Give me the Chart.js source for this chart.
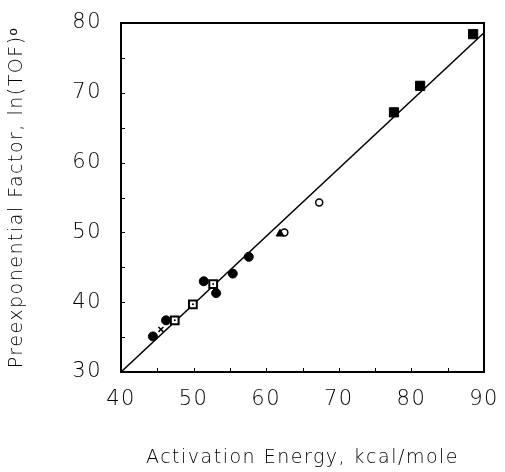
<!DOCTYPE html>
<html>
<head>
<meta charset="utf-8">
<script src="https://cdn.jsdelivr.net/npm/chart.js@4.4.1/dist/chart.umd.min.js"></script>
<style>
    html, body { margin: 0; padding: 0; background: #fff; }
    #wrap { width: 505px; height: 472px; }
</style>
</head>
<body>
<div id="wrap"><canvas id="chart"></canvas></div>
<script>
// Data
const filledCircleX = [44.4, 46.2, 51.4, 53.1, 55.4, 57.6];
const filledCircleY = [35.1, 37.4, 43.0, 41.3, 44.1, 46.5];
const openSquareX = [47.4, 49.9, 52.7];
const openSquareY = [37.4, 39.7, 42.6];
const crossX = [45.5];
const crossY = [36.1];
const triangleX = [61.9];
const triangleY = [49.8];
const openCircleX = [62.5, 67.3];
const openCircleY = [50.0, 54.3];
const filledSquareX = [77.6, 81.2, 88.5];
const filledSquareY = [67.2, 71.0, 78.4];
const fitX = [40, 90];
const fitY = [30, 78.6];

const xTitle = 'Activation Energy, kcal/mole';
const yTitle = 'Preexponential Factor, ln(TOF)\u1D52';

const FONT = "'DejaVu Sans', sans-serif";
const SPACING = '1.5px';

function pts(xs, ys) {
    return xs.map((x, i) => ({ x: x, y: ys[i] }));
}

// slightly spaced lettering like the original labels
const spacingPlugin = {
    id: 'spacing',
    beforeInit(chart) { chart.ctx.letterSpacing = SPACING; },
    beforeUpdate(chart) { chart.ctx.letterSpacing = SPACING; },
    beforeDraw(chart) { chart.ctx.letterSpacing = SPACING; }
};

// frame around the plot and small inward ticks every 5 units
const framePlugin = {
    id: 'frame',
    afterDatasetsDraw(chart) {
        const { ctx, chartArea: a, scales } = chart;
        ctx.save();
        ctx.strokeStyle = '#000';
        ctx.lineWidth = 1;
        scales.x.ticks.forEach((t) => {
            const px = Math.round(scales.x.getPixelForValue(t.value)) + 0.5;
            ctx.beginPath();
            ctx.moveTo(px, a.bottom);
            ctx.lineTo(px, a.bottom - 4);
            ctx.stroke();
        });
        scales.y.ticks.forEach((t) => {
            const py = Math.round(scales.y.getPixelForValue(t.value)) + 0.5;
            ctx.beginPath();
            ctx.moveTo(a.left, py);
            ctx.lineTo(a.left + 4, py);
            ctx.stroke();
        });
        ctx.lineWidth = 2;
        ctx.strokeRect(a.left, a.top, a.right - a.left, a.bottom - a.top);
        ctx.restore();
    }
};

new Chart(document.getElementById('chart'), {
    type: 'scatter',
    data: {
        datasets: [
            {
                data: pts(filledCircleX, filledCircleY),
                pointStyle: 'circle',
                pointRadius: 4.5,
                backgroundColor: '#000',
                borderColor: '#000',
                borderWidth: 1,
                order: 1
            },
            {
                data: pts(openSquareX, openSquareY),
                pointStyle: 'rect',
                pointRadius: 5.5,
                backgroundColor: '#fff',
                borderColor: '#000',
                borderWidth: 2,
                order: 1
            },
            {
                // dot inside the open squares
                data: pts(openSquareX, openSquareY),
                pointStyle: 'circle',
                pointRadius: 1,
                backgroundColor: '#000',
                borderColor: '#000',
                borderWidth: 0,
                order: 0
            },
            {
                data: pts(crossX, crossY),
                pointStyle: 'crossRot',
                pointRadius: 3.5,
                borderColor: '#000',
                borderWidth: 1.5,
                order: 1
            },
            {
                data: pts(triangleX, triangleY),
                pointStyle: 'triangle',
                pointRadius: 4.5,
                backgroundColor: '#000',
                borderColor: '#000',
                borderWidth: 1,
                order: 1
            },
            {
                data: pts(openCircleX, openCircleY),
                pointStyle: 'circle',
                pointRadius: 3.5,
                backgroundColor: '#fff',
                borderColor: '#000',
                borderWidth: 1.5,
                order: 1
            },
            {
                data: pts(filledSquareX, filledSquareY),
                pointStyle: 'rect',
                pointRadius: 6.5,
                backgroundColor: '#000',
                borderColor: '#000',
                borderWidth: 1,
                order: 1
            },
            {
                type: 'line',
                data: pts(fitX, fitY),
                borderColor: '#000',
                borderWidth: 1.5,
                pointRadius: 0,
                fill: false,
                order: 5
            }
        ]
    },
    options: {
        responsive: true,
        maintainAspectRatio: false,
        animation: false,
        layout: {
            padding: { top: 23, right: 21, bottom: 0, left: 0 }
        },
        plugins: {
            legend: { display: false },
            tooltip: { enabled: false }
        },
        scales: {
            x: {
                type: 'linear',
                min: 40,
                max: 90,
                grid: { display: false, drawTicks: false },
                border: { display: false },
                ticks: {
                    stepSize: 5,
                    autoSkip: false,
                    maxRotation: 0,
                    padding: 15,
                    color: '#000',
                    font: { family: FONT, size: 21, weight: 200 },
                    callback: (v) => (v % 10 === 0 ? v : '')
                },
                title: {
                    display: true,
                    text: xTitle,
                    color: '#000',
                    font: { family: FONT, size: 19, weight: 200 },
                    padding: { top: 0, bottom: 3 }
                },
                afterFit: (scale) => {
                    scale.height = 100;
                    scale.paddingLeft = 0;
                    scale.paddingRight = 0;
                }
            },
            y: {
                type: 'linear',
                min: 30,
                max: 80,
                grid: { display: false, drawTicks: false },
                border: { display: false },
                ticks: {
                    stepSize: 5,
                    autoSkip: false,
                    padding: 19,
                    color: '#000',
                    font: { family: FONT, size: 21, weight: 200 },
                    callback: (v) => (v % 10 === 0 ? v : '')
                },
                title: {
                    display: true,
                    text: yTitle,
                    color: '#000',
                    font: { family: FONT, size: 19, weight: 200 },
                    padding: { top: 6, bottom: 0 }
                },
                afterFit: (scale) => {
                    scale.width = 121;
                    scale.paddingTop = 0;
                    scale.paddingBottom = 0;
                }
            }
        }
    },
    plugins: [spacingPlugin, framePlugin]
});
</script>
</body>
</html>
